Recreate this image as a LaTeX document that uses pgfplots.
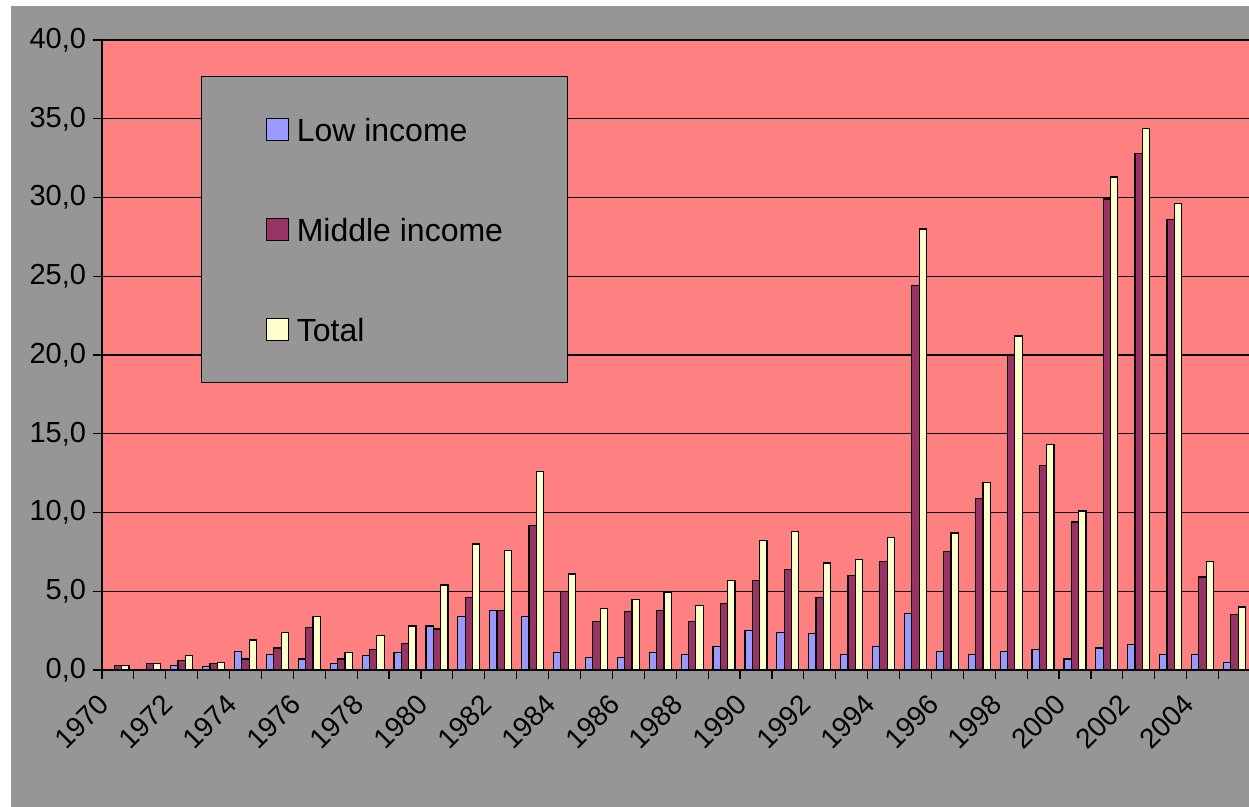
\documentclass[border=0pt]{standalone}
\usepackage{pgfplots}
\pgfplotsset{compat=1.18}
\usepackage{fontspec}
\setmainfont{Liberation Sans}
\definecolor{bggray}{HTML}{969696}
\definecolor{plotpink}{HTML}{FF8080}
\definecolor{lowc}{HTML}{9999FF}
\definecolor{midc}{HTML}{993366}
\definecolor{totc}{HTML}{FFFFCC}
\begin{document}
\begin{tikzpicture}
\path[use as bounding box] (-51bp,-68.5bp) rectangle (573.5bp,335bp);
\fill[bggray] (-45.5bp,-68.5bp) rectangle (573.5bp,332bp);
\begin{axis}[
  at={(0,0)}, anchor=south west,
  scale only axis, width=574.2bp, height=315bp,
  xmin=-0.5, xmax=35.5, ymin=0, ymax=40,
  ybar=0pt, bar width=0.23,
  axis background/.style={fill=plotpink},
  axis x line*=bottom, axis y line*=left,
  axis line style={black, line width=0.6bp},
  tick align=outside,
  major tick length=4.5bp, minor tick length=4.5bp,
  tick style={black, line width=0.6bp},
  ytick={0,5,...,40},
  ymajorgrids, major grid style={black, line width=0.6bp},
  xtick={0,2,...,34},
  xticklabels={1970,1972,1974,1976,1978,1980,1982,1984,1986,1988,1990,1992,1994,1996,1998,2000,2002,2004},
  minor xtick={-0.5,0.5,...,35.5},
  major x tick style={draw=none},
  yticklabel={\pgfmathprintnumber[fixed,fixed zerofill,precision=1,use comma,assume math mode=true]{\tick}},
  yticklabel style={font=\fontsize{14.5bp}{17bp}\selectfont},
  xticklabel style={font=\fontsize{14bp}{16bp}\selectfont, xshift=-10.5bp, yshift=-2bp, rotate=45, anchor=north east},
  legend style={at={(0.0862,0.943)}, anchor=north west, fill=bggray, draw=black, line width=0.6bp,
    inner xsep=32bp, inner ysep=19.25bp, row sep=35.5bp, column sep=4bp,
    font=\fontsize{16bp}{19bp}\selectfont,
    nodes={inner sep=0pt, text height=13bp, text depth=1.5bp}},
  legend cell align=left,
  myleg/.style={legend image code/.code={\draw[##1,draw=black,line width=0.6bp] (0bp,-5.5bp) rectangle (11bp,5.5bp);}},
]
\addplot[fill=lowc, draw=black, line width=0.6bp, myleg] coordinates {
(2,0.3) (3,0.2) (4,1.2) (5,1.0) (6,0.7) (7,0.4) (8,0.9) (9,1.1) (10,2.8) (11,3.4)
(12,3.8) (13,3.4) (14,1.1) (15,0.8) (16,0.8) (17,1.1) (18,1.0) (19,1.5) (20,2.5) (21,2.4)
(22,2.3) (23,1.0) (24,1.5) (25,3.6) (26,1.2) (27,1.0) (28,1.2) (29,1.3) (30,0.7) (31,1.4)
(32,1.6) (33,1.0) (34,1.0) (35,0.5)};
\addlegendentry{Low income}
\addplot[fill=midc, draw=black, line width=0.6bp, myleg] coordinates {
(0,0.3) (1,0.4) (2,0.6) (3,0.4) (4,0.7) (5,1.4) (6,2.7) (7,0.7) (8,1.3) (9,1.7)
(10,2.6) (11,4.6) (12,3.8) (13,9.2) (14,5.0) (15,3.1) (16,3.7) (17,3.8) (18,3.1) (19,4.2)
(20,5.7) (21,6.4) (22,4.6) (23,6.0) (24,6.9) (25,24.4) (26,7.5) (27,10.9) (28,20.0) (29,13.0)
(30,9.4) (31,29.9) (32,32.8) (33,28.6) (34,5.9) (35,3.5)};
\addlegendentry{Middle income}
\addplot[fill=totc, draw=black, line width=0.6bp, myleg] coordinates {
(0,0.3) (1,0.4) (2,0.9) (3,0.5) (4,1.9) (5,2.4) (6,3.4) (7,1.1) (8,2.2) (9,2.8)
(10,5.4) (11,8.0) (12,7.6) (13,12.6) (14,6.1) (15,3.9) (16,4.5) (17,4.9) (18,4.1) (19,5.7)
(20,8.2) (21,8.8) (22,6.8) (23,7.0) (24,8.4) (25,28.0) (26,8.7) (27,11.9) (28,21.2) (29,14.3)
(30,10.1) (31,31.3) (32,34.4) (33,29.6) (34,6.9) (35,4.0)};
\addlegendentry{Total}
\end{axis}
\end{tikzpicture}
\end{document}
